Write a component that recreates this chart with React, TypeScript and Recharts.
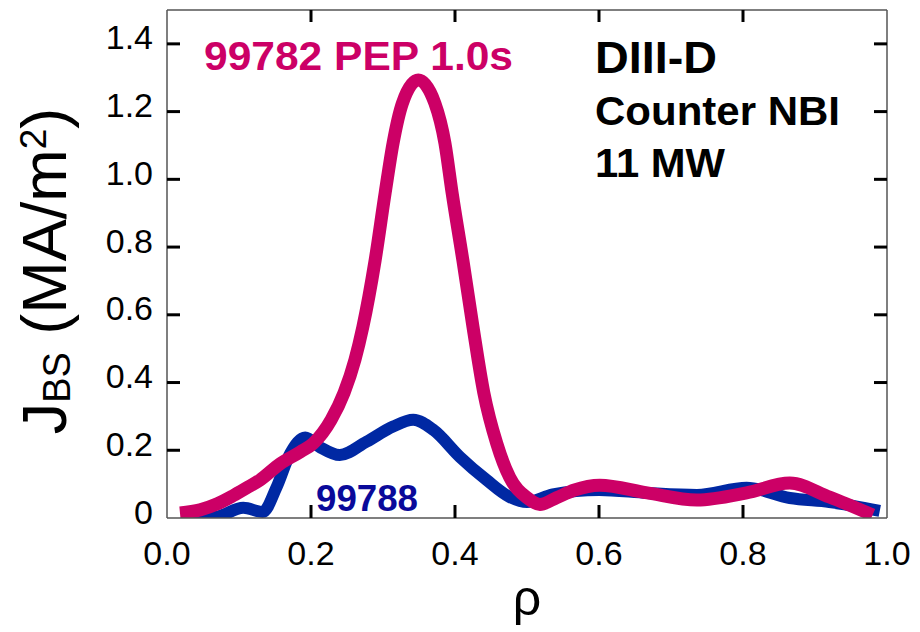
import React from 'react';
import { LineChart, Line, XAxis, YAxis, Label } from 'recharts';

// Shot 99782 PEP 1.0s (magenta)
const rhoPep = [0.018, 0.046, 0.07, 0.092, 0.11, 0.129, 0.157, 0.185, 0.203, 0.228, 0.246, 0.261, 0.272, 0.289, 0.303, 0.314, 0.327, 0.349, 0.372, 0.386, 0.396, 0.411, 0.425, 0.44, 0.458, 0.476, 0.5, 0.518, 0.541, 0.565, 0.601, 0.667, 0.736, 0.805, 0.865, 0.92, 0.98];
const jPep = [0.015, 0.024, 0.042, 0.066, 0.088, 0.112, 0.16, 0.195, 0.22, 0.29, 0.37, 0.467, 0.564, 0.76, 0.96, 1.107, 1.225, 1.293, 1.225, 1.107, 0.96, 0.76, 0.564, 0.37, 0.22, 0.12, 0.06, 0.04, 0.06, 0.082, 0.097, 0.074, 0.053, 0.074, 0.103, 0.062, 0.009];

// Shot 99788 (blue)
const rho99788 = [0.035, 0.069, 0.106, 0.133, 0.152, 0.171, 0.192, 0.212, 0.24, 0.277, 0.314, 0.342, 0.37, 0.407, 0.444, 0.476, 0.5, 0.536, 0.6, 0.667, 0.736, 0.805, 0.865, 0.92, 0.99];
const j99788 = [0.0, 0.004, 0.03, 0.018, 0.09, 0.19, 0.238, 0.21, 0.186, 0.225, 0.27, 0.29, 0.26, 0.18, 0.112, 0.062, 0.047, 0.07, 0.083, 0.074, 0.068, 0.089, 0.059, 0.047, 0.021];

const xTicks = [0, 0.2, 0.4, 0.6, 0.8, 1.0];
const xInnerTicks = [0.2, 0.4, 0.6, 0.8];
const yTicks = [0, 0.2, 0.4, 0.6, 0.8, 1.0, 1.2, 1.4];
const yInnerTicks = [0.2, 0.4, 0.6, 0.8, 1.0, 1.2, 1.4];

const pepData = rhoPep.map((r, i) => ({ rho: r, j: jPep[i] }));
const refData = rho99788.map((r, i) => ({ rho: r, j: j99788[i] }));

const FONT = '"Liberation Sans", Arial, Helvetica, sans-serif';
const AXIS_STROKE = '#555';

const LeftTick = (props: any) => {
  const { x, y, payload } = props;
  const v = payload.value as number;
  const label = v === 0 ? '0' : v.toFixed(1);
  return (
    <g>
      {v !== 0 && <line x1={x} y1={y} x2={x + 13} y2={y} stroke="#000" strokeWidth={3} />}
      <text x={x - 14} y={y + 5.5} textAnchor="end" fontSize={34} fill="#000" fontFamily={FONT}>
        {label}
      </text>
    </g>
  );
};

const RightTick = (props: any) => {
  const { x, y } = props;
  return <line x1={x} y1={y} x2={x - 13} y2={y} stroke="#000" strokeWidth={3} />;
};

const BottomTick = (props: any) => {
  const { x, y, payload } = props;
  const v = payload.value as number;
  return (
    <g>
      {v > 0 && v < 1 && <line x1={x} y1={y} x2={x} y2={y - 13} stroke="#000" strokeWidth={3} />}
      <text x={x} y={y + 47} textAnchor="middle" fontSize={34} fill="#000" fontFamily={FONT}>
        {v.toFixed(1)}
      </text>
    </g>
  );
};

const TopTick = (props: any) => {
  const { x, y } = props;
  return <line x1={x} y1={y} x2={x} y2={y + 12} stroke="#000" strokeWidth={3} />;
};

const XTitle = (props: any) => {
  const vb = props.viewBox || { x: 167, y: 518, width: 720, height: 114 };
  return (
    <text x={vb.x + vb.width / 2} y={vb.y + 97} textAnchor="middle" fontSize={50} fill="#000" fontFamily={FONT}>
      ρ
    </text>
  );
};

const YTitle = (props: any) => {
  const vb = props.viewBox || { x: 0, y: 10, width: 167, height: 508 };
  const cx = vb.x + 66;
  const cy = vb.y + vb.height / 2 + 7;
  return (
    <text
      x={cx}
      y={cy}
      transform={`rotate(-90, ${cx}, ${cy})`}
      textAnchor="middle"
      fill="#000"
      fontFamily={FONT}
      fontSize={63}
    >
      <tspan>J</tspan>
      <tspan fontSize={38} dy={4}>BS</tspan>
      <tspan dy={-4}> (MA/m</tspan>
      <tspan fontSize={37} dy={-20}>2</tspan>
      <tspan dy={20}>)</tspan>
    </text>
  );
};

export default function App() {
  return (
    <div style={{ position: 'absolute', left: 0, top: 0, width: 920, height: 632, background: '#fff' }}>
      <LineChart width={920} height={632} margin={{ top: 0, right: 0, bottom: 0, left: 0 }}>
        <XAxis
          dataKey="rho"
          type="number"
          domain={[0, 1]}
          ticks={xTicks}
          interval={0}
          height={114}
          tickSize={0}
          tickMargin={0}
          tick={BottomTick}
          axisLine={{ stroke: AXIS_STROKE, strokeWidth: 1.5 }}
          allowDataOverflow
        >
          <Label content={XTitle} />
        </XAxis>
        <XAxis
          xAxisId="top"
          orientation="top"
          dataKey="rho"
          type="number"
          domain={[0, 1]}
          ticks={xInnerTicks}
          interval={0}
          height={10}
          tickSize={0}
          tickMargin={0}
          tick={TopTick}
          axisLine={{ stroke: AXIS_STROKE, strokeWidth: 1.5 }}
          allowDataOverflow
        />
        <YAxis
          type="number"
          domain={[0, 1.5]}
          ticks={yTicks}
          interval={0}
          width={167}
          tickSize={0}
          tickMargin={0}
          tick={LeftTick}
          axisLine={{ stroke: AXIS_STROKE, strokeWidth: 1.5 }}
          allowDataOverflow
        >
          <Label content={YTitle} />
        </YAxis>
        <YAxis
          yAxisId="right"
          orientation="right"
          type="number"
          domain={[0, 1.5]}
          ticks={yInnerTicks}
          interval={0}
          width={33}
          tickSize={0}
          tickMargin={0}
          tick={RightTick}
          axisLine={{ stroke: AXIS_STROKE, strokeWidth: 1.5 }}
          allowDataOverflow
        />
        <Line
          data={refData}
          dataKey="j"
          type="monotone"
          stroke="#0028A3"
          strokeWidth={12}
          dot={false}
          activeDot={false}
          isAnimationActive={false}
          strokeLinejoin="round"
        />
        <Line
          data={pepData}
          dataKey="j"
          type="monotone"
          stroke="#CC0066"
          strokeWidth={13}
          dot={false}
          activeDot={false}
          isAnimationActive={false}
          strokeLinejoin="round"
        />
      </LineChart>
      <svg
        width={920}
        height={632}
        style={{ position: 'absolute', left: 0, top: 0, pointerEvents: 'none' }}
        fontFamily={FONT}
        fontWeight="bold"
      >
        <text x={204} y={70} fontSize={40} fill="#CC0066" textLength={309} lengthAdjust="spacingAndGlyphs">
          99782 PEP 1.0s
        </text>
        <text x={595} y={73} fontSize={44} fill="#000" textLength={122} lengthAdjust="spacingAndGlyphs">
          DIII-D
        </text>
        <text x={595} y={125} fontSize={41} fill="#000" textLength={245} lengthAdjust="spacingAndGlyphs">
          Counter NBI
        </text>
        <text x={595} y={177} fontSize={41} fill="#000" textLength={130} lengthAdjust="spacingAndGlyphs">
          11 MW
        </text>
        <text x={316} y={511} fontSize={36} fill="#0A0A9A" textLength={102} lengthAdjust="spacingAndGlyphs">
          99788
        </text>
      </svg>
    </div>
  );
}
